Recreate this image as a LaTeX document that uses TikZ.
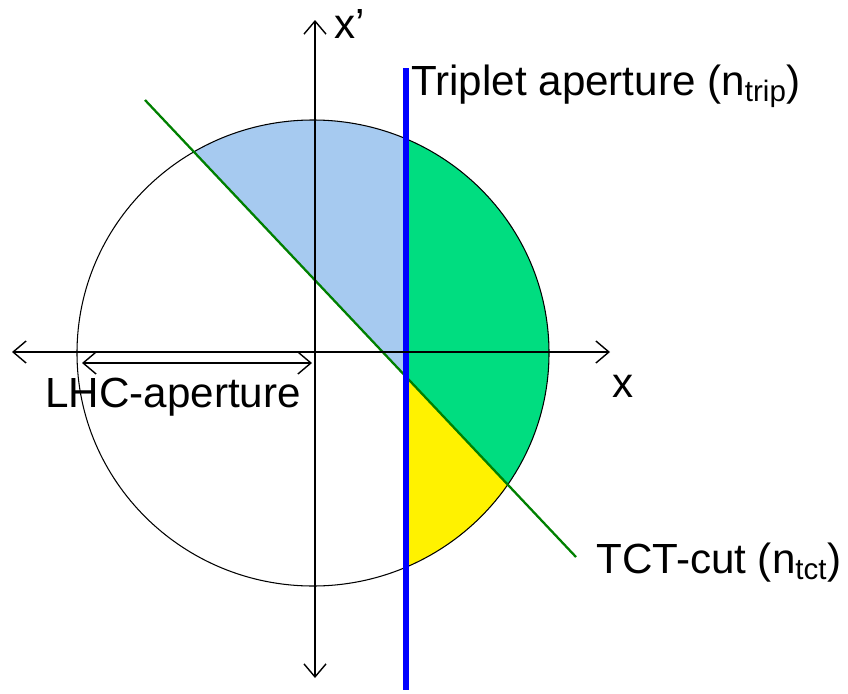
\documentclass[tikz,border=0pt]{standalone}
\usepackage{fontspec}
\setmainfont{Liberation Sans}
\usetikzlibrary{arrows.meta}
\definecolor{apblue}{RGB}{166,202,240}
\definecolor{tctgreen}{RGB}{0,221,128}
\definecolor{cutgreen}{RGB}{0,128,0}
\definecolor{tripblue}{RGB}{0,0,255}

\begin{document}
\begin{tikzpicture}[x=0.02cm, y=-0.02cm,
  axis/.style={{Straight Barb[length=2.6mm,width=4.4mm]}-{Straight Barb[length=2.6mm,width=4.4mm]}, line width=0.8pt},
  lbl/.style={inner sep=0pt, anchor=base west, font=\fontsize{24}{28}\selectfont}
]
  \useasboundingbox (0,0) rectangle (848,693);
  % coloured regions inside the aperture circle
  \begin{scope}
    \clip (313,353) ellipse [x radius=236, y radius=233];
    \fill[apblue] (145,100) -- (406,100) -- (406,377) -- cycle;
    \fill[tctgreen] (406,100) -- (600,100) -- (600,582) -- (406,377) -- cycle;
    \fill[yellow] (406,377) -- (600,582) -- (600,600) -- (406,600) -- cycle;
  \end{scope}
  \draw[line width=0.6pt] (313,353) ellipse [x radius=236, y radius=233];

  % TCT cut and triplet aperture
  \coordinate (c1) at (145,100);
  \coordinate (c2) at (576,557);
  \draw[cutgreen, line width=1.3pt] (c1) -- (c2);
  \coordinate (t1) at (406,68);
  \coordinate (t2) at (406,690);
  \draw[tripblue, line width=3.4pt] (t1) -- (t2);

  % axes
  \coordinate (xl) at (12,352);
  \coordinate (xr) at (610,352);
  \coordinate (yt) at (315,20);
  \coordinate (yb) at (315,678);
  \draw[axis] (xl) -- (xr);
  \draw[axis] (yb) -- (yt);
  \coordinate (la) at (82,363);
  \coordinate (lb) at (312,363);
  \draw[axis] (la) -- (lb);

  \node[lbl] (xlab) at (612,397) {x};
  \node[lbl] (xplab) at (334,38) {x’};
  \node[lbl] (trip) at (411,95) {Triplet aperture (n\textsubscript{trip})};
  \node[lbl] (tct) at (596,573) {TCT-cut (n\textsubscript{tct})};
  \node[lbl] (lhc) at (45,407) {LHC-aperture};
\end{tikzpicture}
\end{document}
